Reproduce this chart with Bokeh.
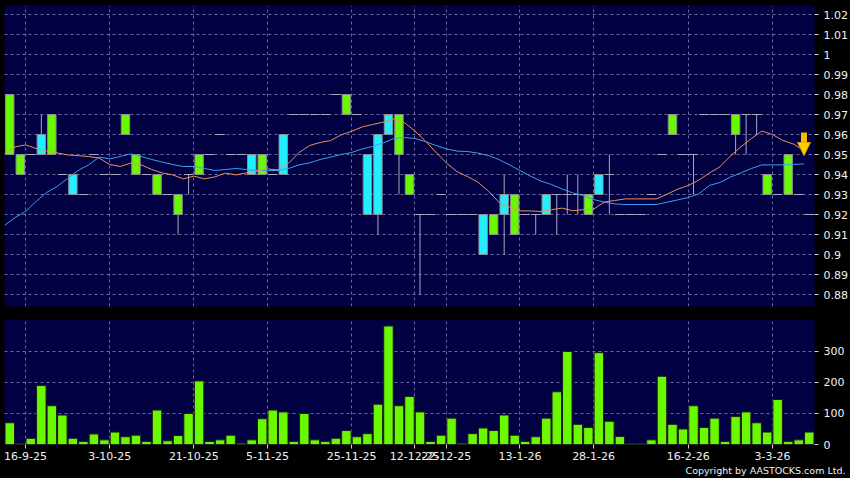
import numpy as np
from bokeh.plotting import figure
from bokeh.layouts import column
from bokeh.models import (ColumnDataSource, FixedTicker, Title, Arrow, NormalHead, Range1d)
from bokeh.embed import file_html
from bokeh.resources import INLINE

# ---------------- data ----------------
opens = [0.98, 0.95, 0.95, 0.95, 0.97, 0.94, 0.93, 0.93, 0.95, 0.94,
         0.94, 0.97, 0.95, 0.94, 0.94, 0.93, 0.93, 0.94, 0.95, 0.95,
         0.96, 0.95, 0.95, 0.94, 0.95, 0.94, 0.94, 0.97, 0.97, 0.97,
         0.97, 0.98, 0.98, 0.97, 0.92, 0.92, 0.96, 0.97, 0.94, 0.92,
         0.92, 0.93, 0.92, 0.92, 0.92, 0.90, 0.92, 0.92, 0.93, 0.92,
         0.92, 0.92, 0.93, 0.93, 0.93, 0.93, 0.93, 0.94, 0.92, 0.92,
         0.92, 0.93, 0.95, 0.97, 0.95, 0.95, 0.97, 0.97, 0.97, 0.97,
         0.97, 0.97, 0.94, 0.93, 0.95, 0.93, 0.92]
highs = [0.98, 0.95, 0.95, 0.97, 0.97, 0.94, 0.94, 0.93, 0.95, 0.94,
         0.94, 0.97, 0.95, 0.94, 0.94, 0.93, 0.93, 0.94, 0.95, 0.95,
         0.96, 0.95, 0.95, 0.95, 0.95, 0.94, 0.96, 0.97, 0.97, 0.97,
         0.97, 0.98, 0.98, 0.97, 0.95, 0.96, 0.97, 0.97, 0.94, 0.92,
         0.92, 0.93, 0.92, 0.92, 0.92, 0.92, 0.92, 0.94, 0.93, 0.92,
         0.92, 0.93, 0.93, 0.94, 0.94, 0.93, 0.94, 0.95, 0.92, 0.92,
         0.92, 0.93, 0.95, 0.97, 0.95, 0.95, 0.97, 0.97, 0.97, 0.97,
         0.97, 0.97, 0.94, 0.93, 0.95, 0.93, 0.92]
lows = [0.95, 0.94, 0.95, 0.95, 0.95, 0.94, 0.93, 0.93, 0.95, 0.94,
        0.94, 0.96, 0.94, 0.94, 0.93, 0.93, 0.91, 0.93, 0.94, 0.95,
        0.96, 0.95, 0.95, 0.94, 0.94, 0.94, 0.94, 0.97, 0.97, 0.97,
        0.97, 0.98, 0.97, 0.97, 0.92, 0.91, 0.96, 0.93, 0.93, 0.88,
        0.92, 0.93, 0.92, 0.92, 0.92, 0.90, 0.91, 0.90, 0.91, 0.92,
        0.91, 0.92, 0.91, 0.92, 0.92, 0.92, 0.93, 0.92, 0.92, 0.92,
        0.92, 0.93, 0.95, 0.96, 0.95, 0.93, 0.97, 0.97, 0.97, 0.95,
        0.95, 0.96, 0.93, 0.93, 0.93, 0.93, 0.92]
closes = [0.95, 0.94, 0.95, 0.96, 0.95, 0.94, 0.94, 0.93, 0.95, 0.94,
          0.94, 0.96, 0.94, 0.94, 0.93, 0.93, 0.92, 0.94, 0.94, 0.95,
          0.96, 0.95, 0.95, 0.95, 0.94, 0.94, 0.96, 0.97, 0.97, 0.97,
          0.97, 0.98, 0.97, 0.97, 0.95, 0.96, 0.97, 0.95, 0.93, 0.92,
          0.92, 0.93, 0.92, 0.92, 0.92, 0.92, 0.91, 0.93, 0.91, 0.92,
          0.92, 0.93, 0.93, 0.93, 0.93, 0.92, 0.94, 0.94, 0.92, 0.92,
          0.92, 0.93, 0.95, 0.96, 0.95, 0.95, 0.97, 0.97, 0.97, 0.96,
          0.97, 0.97, 0.93, 0.93, 0.93, 0.93, 0.92]
volume = [70, 3, 20, 190, 125, 95, 20, 10, 34, 15,
          40, 25, 30, 10, 111, 12, 29, 100, 205, 10,
          15, 30, 4, 15, 83, 111, 105, 10, 100, 15,
          10, 20, 45, 25, 35, 130, 382, 125, 155, 105,
          10, 30, 85, 4, 35, 53, 45, 95, 30, 10,
          25, 85, 170, 300, 65, 55, 296, 75, 26, 3,
          3, 15, 220, 65, 50, 125, 55, 85, 10, 90,
          105, 70, 40, 145, 10, 15, 40]
ma_fast = [0.9507, 0.9538, 0.9548, 0.9530, 0.9518, 0.9508, 0.9498, 0.9494, 0.9490, 0.9482,
           0.9450, 0.9440, 0.9457, 0.9448, 0.9425, 0.9408, 0.9398, 0.9378, 0.9392, 0.9378,
           0.9388, 0.9407, 0.9398, 0.9408, 0.9418, 0.9428, 0.9423, 0.9456, 0.9510, 0.9545,
           0.9560, 0.9570, 0.9598, 0.9616, 0.9638, 0.9650, 0.9662, 0.9678, 0.9660, 0.9618,
           0.9568, 0.9512, 0.9458, 0.9415, 0.9390, 0.9362, 0.9317, 0.9262, 0.9237, 0.9218,
           0.9218, 0.9215, 0.9224, 0.9232, 0.9219, 0.9224, 0.9226, 0.9262, 0.9270, 0.9278,
           0.9278, 0.9278, 0.9278, 0.9302, 0.9327, 0.9345, 0.9372, 0.9407, 0.9438, 0.9492,
           0.9538, 0.9580, 0.9617, 0.9600, 0.9570, 0.9552, 0.9520]
ma_slow = [0.9145, 0.9185, 0.9215, 0.9265, 0.9310, 0.9340, 0.9380, 0.9420, 0.9448, 0.9487,
           0.9478, 0.9490, 0.9503, 0.9490, 0.9475, 0.9462, 0.9450, 0.9440, 0.9440, 0.9430,
           0.9420, 0.9425, 0.9430, 0.9425, 0.9420, 0.9420, 0.9420, 0.9430, 0.9448, 0.9458,
           0.9475, 0.9487, 0.9500, 0.9510, 0.9528, 0.9540, 0.9558, 0.9580, 0.9585, 0.9580,
           0.9565, 0.9545, 0.9528, 0.9517, 0.9515, 0.9507, 0.9495, 0.9475, 0.9448, 0.9420,
           0.9392, 0.9367, 0.9350, 0.9328, 0.9308, 0.9295, 0.9275, 0.9262, 0.9253, 0.9250,
           0.9250, 0.9250, 0.9250, 0.9262, 0.9273, 0.9285, 0.9303, 0.9345, 0.9360, 0.9387,
           0.9408, 0.9430, 0.9448, 0.9448, 0.9448, 0.9450, 0.9453]

date_tick_days = [2, 10, 18, 25, 33, 39, 42, 49, 56, 65, 73]
date_tick_labels = ["16-9-25", "3-10-25", "21-10-25", "5-11-25", "25-11-25", "12-12-25",
                    "22-12-25", "13-1-26", "28-1-26", "16-2-26", "3-3-26"]
price_ticks = [0.88, 0.89, 0.9, 0.91, 0.92, 0.93, 0.94, 0.95, 0.96, 0.97, 0.98, 0.99, 1.0, 1.01, 1.02]
price_tick_labels = ["0.88", "0.89", "0.9", "0.91", "0.92", "0.93", "0.94", "0.95", "0.96",
                     "0.97", "0.98", "0.99", "1", "1.01", "1.02"]
vol_ticks = [0, 100, 200, 300]
vol_tick_labels = ["0", "100", "200", "300"]
copyright_text = "Copyright by AASTOCKS.com Ltd."

# ---------------- styling ----------------
NAVY = "#000042"
GRID = "#6a6aa2"
GREEN = "#6af800"
CYAN = "#22eeff"
WICK = "#a8a8c0"
FONT = "DejaVu Sans"

n = len(volume)
idx = np.arange(n)
o = np.array(opens); h = np.array(highs); l = np.array(lows); c = np.array(closes)
body = o != c
up = c > o

cs = ColumnDataSource(dict(
    x=idx[body], top=np.maximum(o, c)[body], bottom=np.minimum(o, c)[body],
    color=[CYAN if u else GREEN for u in up[body]]))
ws = ColumnDataSource(dict(x=idx, low=l, high=h))
ds = ColumnDataSource(dict(x0=idx[~body] - 0.45, x1=idx[~body] + 0.45, y=o[~body]))
ms = ColumnDataSource(dict(x=idx - 0.5, fast=ma_fast, slow=ma_slow))
vs = ColumnDataSource(dict(x=idx, v=volume))

grid_x = [d - 0.5 for d in date_tick_days]


def style(p):
    p.background_fill_color = NAVY
    p.border_fill_color = "black"
    p.outline_line_color = None
    for g in (p.xgrid[0], p.ygrid[0]):
        g.grid_line_color = GRID
        g.grid_line_dash = "3 3"
        g.grid_line_width = 1
    p.xgrid.ticker = FixedTicker(ticks=grid_x)
    ax = p.yaxis[0]
    ax.axis_line_color = None
    ax.major_tick_line_color = "#d0d0d0"
    ax.major_tick_out = 4
    ax.major_tick_in = 0
    ax.minor_tick_line_color = None
    ax.major_label_standoff = 5
    ax.major_label_text_color = "#f0f0f0"
    ax.major_label_text_font = FONT
    ax.major_label_text_font_size = "11px"


# ---------------- price panel ----------------
p1 = figure(width=850, height=312, x_range=Range1d(-0.5, n - 0.5), y_range=Range1d(0.874, 1.0245),
            output_backend="svg", toolbar_location=None, y_axis_location="right",
            min_border_left=4, min_border_top=5, min_border_right=35, min_border_bottom=6)
style(p1)
p1.xaxis.visible = False
p1.yaxis.ticker = FixedTicker(ticks=price_ticks)
p1.yaxis.major_label_overrides = dict(zip(price_ticks, price_tick_labels))
p1.ygrid.ticker = FixedTicker(ticks=price_ticks)

p1.segment(x0="x", y0="low", x1="x", y1="high", source=ws, line_color=WICK, line_width=1)
p1.segment(x0="x0", y0="y", x1="x1", y1="y", source=ds, line_color=WICK, line_width=1)
p1.vbar(x="x", top="top", bottom="bottom", width=0.8, source=cs,
        fill_color="color", line_color="#8a9090", line_width=1)
p1.line(x="x", y="slow", source=ms, line_color="#3a9ff0", line_width=1)
p1.line(x="x", y="fast", source=ms, line_color="#e8925a", line_width=1)

ax_x = n - 1.5
tip = ma_fast[-1] - 0.0025
p1.add_layout(Arrow(end=NormalHead(size=13, fill_color="#ffd000", line_color="#d89800", line_width=1),
                    x_start=ax_x, y_start=tip + 0.0115, x_end=ax_x, y_end=tip,
                    line_color="#f5bc00", line_width=6))

# ---------------- volume panel ----------------
p2 = figure(width=850, height=166, x_range=p1.x_range, y_range=Range1d(0, 403),
            output_backend="svg", toolbar_location=None, y_axis_location="right",
            min_border_left=4, min_border_top=7, min_border_right=35, min_border_bottom=34)
style(p2)
p2.yaxis.ticker = FixedTicker(ticks=vol_ticks)
p2.yaxis.major_label_overrides = dict(zip(vol_ticks, vol_tick_labels))
p2.ygrid.ticker = FixedTicker(ticks=vol_ticks)

xa = p2.xaxis[0]
xa.ticker = FixedTicker(ticks=grid_x)
xa.major_label_overrides = dict(zip(grid_x, date_tick_labels))
xa.axis_line_color = None
xa.major_tick_line_color = "#d0d0d0"
xa.major_tick_out = 4
xa.major_tick_in = 0
xa.minor_tick_line_color = None
xa.major_label_standoff = 3
xa.major_label_text_color = "#f0f0f0"
xa.major_label_text_font = FONT
xa.major_label_text_font_size = "11px"

p2.vbar(x="x", top="v", bottom=0, width=0.9, source=vs,
        fill_color=GREEN, line_color="#1c1c1c", line_width=1)

p2.add_layout(Title(text=copyright_text, align="right", text_color="#f0f0f0",
                    text_font=FONT, text_font_size="9.5px", text_font_style="normal",
                    standoff=0, offset=-31), "below")

layout = column(p1, p2, spacing=0)
layout.styles = {"background-color": "black"}
open("out.html", "w").write(file_html(layout, INLINE))
